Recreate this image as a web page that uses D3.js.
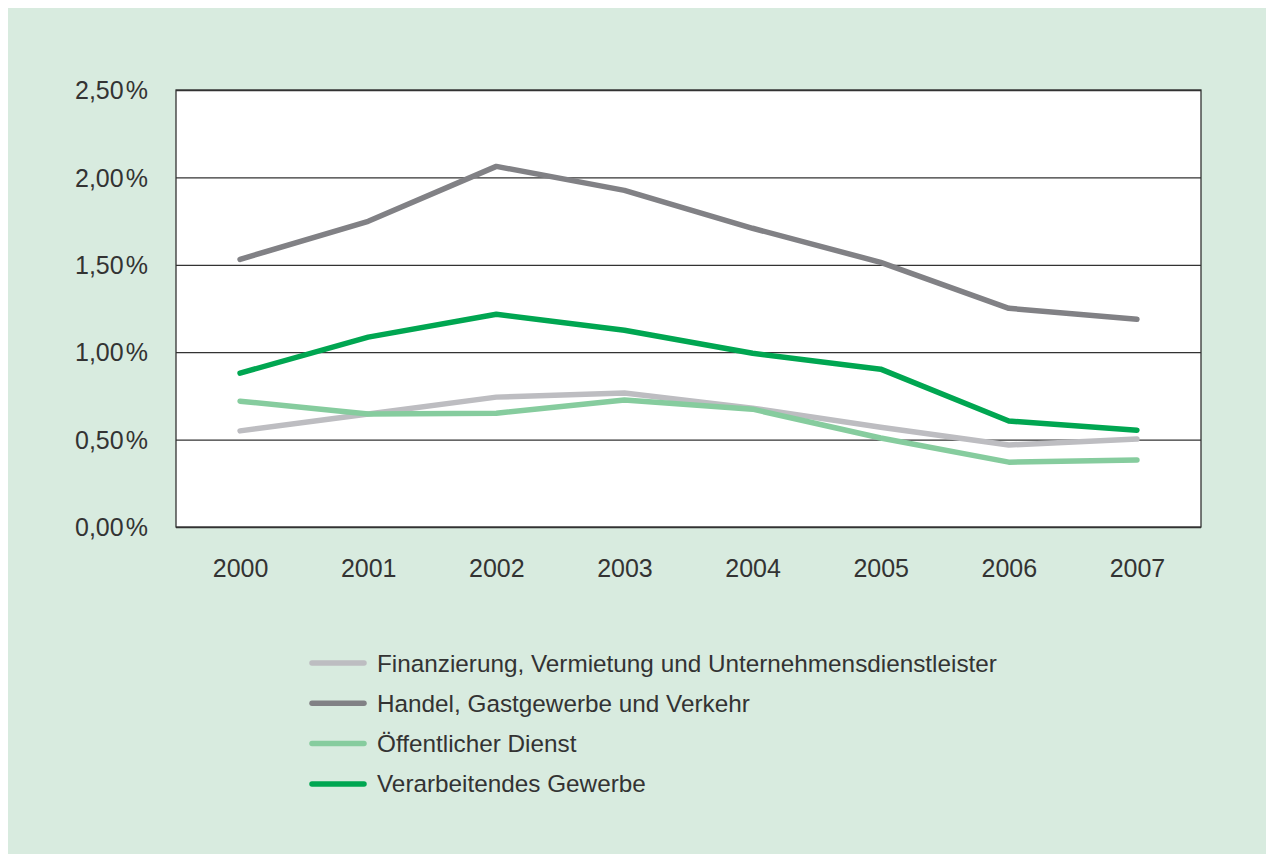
<!DOCTYPE html>
<html>
<head>
<meta charset="utf-8">
<script src="https://cdn.jsdelivr.net/npm/d3@7"></script>
<style>
  body { margin: 0; background: #fff; }
  text { font-family: "Liberation Sans", Arial, sans-serif; fill: #333; }
</style>
</head>
<body>
<svg width="1266" height="854"></svg>
<script>
// data
const years = ['2000', '2001', '2002', '2003', '2004', '2005', '2006', '2007']
const seriesNames = [
    'Finanzierung, Vermietung und Unternehmensdienstleister',
    'Handel, Gastgewerbe und Verkehr',
    'Öffentlicher Dienst',
    'Verarbeitendes Gewerbe'
]
const finanzierung = [0.55, 0.646, 0.743, 0.766, 0.68, 0.571, 0.469, 0.503]
const handel = [1.531, 1.749, 2.063, 1.926, 1.709, 1.514, 1.251, 1.189]
const oeffentlich = [0.72, 0.646, 0.651, 0.726, 0.674, 0.509, 0.371, 0.383]
const verarbeitend = [0.88, 1.086, 1.217, 1.126, 0.994, 0.903, 0.606, 0.554]
const yTicks = [0, 0.5, 1, 1.5, 2, 2.5]

const colors = ['#bdbdc1', '#818185', '#86cc9e', '#00a651']
const allValues = [finanzierung, handel, oeffentlich, verarbeitend]

const svg = d3.select('svg')
const width = +svg.attr('width')
const height = +svg.attr('height')

svg.append('rect')
    .attr('x', 8).attr('y', 8)
    .attr('width', width - 8).attr('height', height - 8)
    .attr('fill', '#d8ebdf')

const margin = {top: 90, left: 176, right: 1201, bottom: 527}

const x = d3.scalePoint()
    .domain(years)
    .range([margin.left, margin.right])
    .padding(0.5)

const y = d3.scaleLinear()
    .domain([0, 2.5])
    .range([margin.bottom, margin.top])

// plot area
svg.append('rect')
    .attr('x', margin.left).attr('y', margin.top)
    .attr('width', margin.right - margin.left)
    .attr('height', margin.bottom - margin.top)
    .attr('fill', '#fff')

const fmt = v => d3.format('.2f')(v).replace('.', ',') + '\u200a%'

const yAxis = d3.axisLeft(y)
    .tickValues(yTicks)
    .tickSize(-(margin.right - margin.left))
    .tickPadding(28)
    .tickFormat(fmt)

const yAxisG = svg.append('g')
    .attr('transform', `translate(${margin.left},0)`)
    .call(yAxis)
yAxisG.select('.domain').remove()
yAxisG.selectAll('.tick line').attr('stroke', '#333').attr('stroke-width', 1.3)
yAxisG.selectAll('.tick text')
    .style('font-size', '25px')
    .attr('fill', '#333')
    .attr('dy', '0.35em')

const xAxis = d3.axisBottom(x).tickSize(0).tickPadding(32)
const xAxisG = svg.append('g')
    .attr('transform', `translate(0,${margin.bottom})`)
    .call(xAxis)
xAxisG.select('.domain').remove()
xAxisG.selectAll('.tick text')
    .style('font-size', '25px')
    .attr('fill', '#333')

// plot frame sides
svg.append('rect')
    .attr('x', margin.left).attr('y', margin.top)
    .attr('width', margin.right - margin.left)
    .attr('height', margin.bottom - margin.top)
    .attr('fill', 'none')
    .attr('stroke', '#333')
    .attr('stroke-width', 1.3)

const line = d3.line()
    .x((d, i) => x(years[i]))
    .y(d => y(d))

svg.append('g').selectAll('path')
    .data(allValues)
    .enter()
    .append('path')
    .attr('d', line)
    .attr('fill', 'none')
    .attr('stroke', (d, i) => colors[i])
    .attr('stroke-width', 5.5)
    .attr('stroke-linecap', 'round')
    .attr('stroke-linejoin', 'round')

// legend
const legendG = svg.append('g')
    .attr('transform', 'translate(312, 663)')

const legendItem = legendG.selectAll('g')
    .data(seriesNames)
    .enter()
    .append('g')
    .attr('transform', (d, i) => `translate(0, ${i * 40.3})`)

legendItem.append('line')
    .attr('x1', 0).attr('x2', 52)
    .attr('stroke', (d, i) => colors[i])
    .attr('stroke-width', 5.5)
    .attr('stroke-linecap', 'round')

legendItem.append('text')
    .attr('x', 65)
    .attr('dy', '0.35em')
    .style('font-size', '24.3px')
    .text(d => d)
</script>
</body>
</html>
